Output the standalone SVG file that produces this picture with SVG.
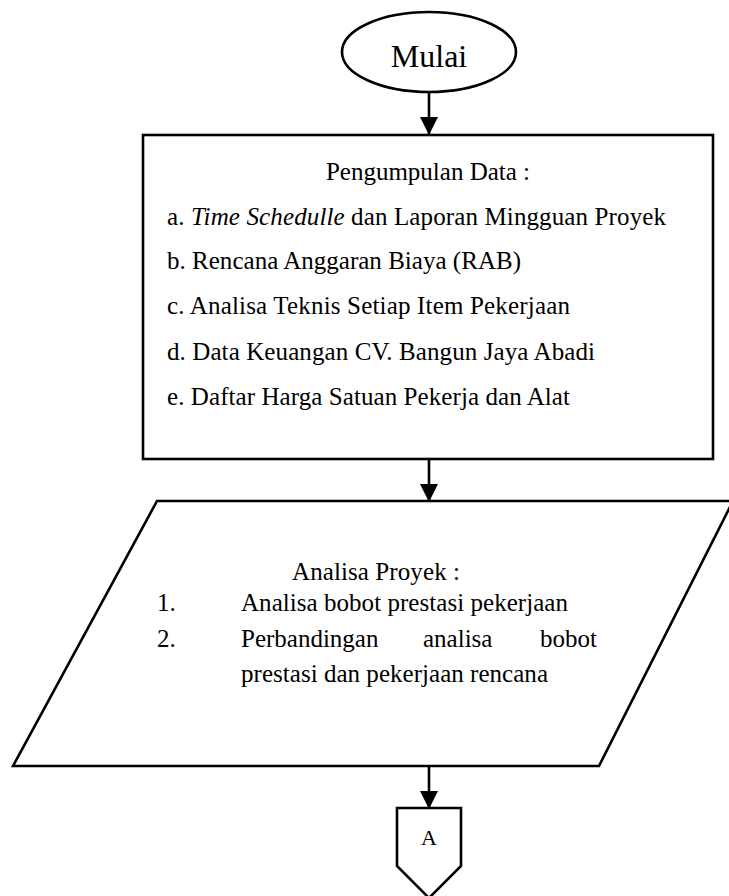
<svg xmlns="http://www.w3.org/2000/svg" width="729" height="896" viewBox="0 0 729 896">
<defs>
<style>
.s{fill:#fff;stroke:#000;stroke-width:2.6}
.t{font-family:"Liberation Serif","Times New Roman",serif;font-size:25px;fill:#000}
.c{stroke:#000;stroke-width:2.6;fill:none}
</style>
<marker id="ah" markerUnits="userSpaceOnUse" markerWidth="18" markerHeight="18" viewBox="0 0 18 18" refX="17" refY="9" orient="auto">
<path d="M0,0 L18,9 L0,18 Z" fill="#000"/>
</marker>
</defs>
<rect width="729" height="896" fill="#fff"/>
<g id="connectors">
<line class="c" x1="429" y1="92" x2="429" y2="134" marker-end="url(#ah)"/>
<line class="c" x1="429" y1="459" x2="429" y2="501" marker-end="url(#ah)"/>
<line class="c" x1="429" y1="766" x2="429" y2="808" marker-end="url(#ah)"/>
</g>
<g id="mulai">
<ellipse class="s" cx="429" cy="52" rx="87" ry="40"/>
<text class="t" x="429" y="67" text-anchor="middle" style="font-size:32px">Mulai</text>
</g>
<g id="pengumpulan">
<rect class="s" x="143" y="135" width="570" height="324"/>
<text class="t" x="428" y="180" text-anchor="middle">Pengumpulan Data :</text>
<text class="t" x="167" y="225" textLength="499">a. <tspan font-style="italic">Time Schedulle</tspan> dan Laporan Mingguan Proyek</text>
<text class="t" x="167" y="269" textLength="354">b. Rencana Anggaran Biaya (RAB)</text>
<text class="t" x="167" y="314" textLength="403">c. Analisa Teknis Setiap Item Pekerjaan</text>
<text class="t" x="167" y="360" textLength="428">d. Data Keuangan CV. Bangun Jaya Abadi</text>
<text class="t" x="167" y="405" textLength="403">e. Daftar Harga Satuan Pekerja dan Alat</text>
</g>
<g id="analisa">
<polygon class="s" points="157,501 733,501 599,766 13,766"/>
<text class="t" x="292" y="580" textLength="168">Analisa Proyek :</text>
<text class="t" x="157" y="611">1.</text>
<text class="t" x="241" y="611" textLength="327">Analisa bobot prestasi pekerjaan</text>
<text class="t" x="157" y="647">2.</text>
<text class="t" x="241" y="647">Perbandingan</text>
<text class="t" x="423" y="647">analisa</text>
<text class="t" x="597" y="647" text-anchor="end">bobot</text>
<text class="t" x="241" y="682" textLength="307">prestasi dan pekerjaan rencana</text>
</g>
<g id="a">
<polygon class="s" points="397,808 461,808 461,866 429,898 397,866"/>
<text class="t" x="429" y="845" text-anchor="middle" style="font-size:22px">A</text>
</g>
</svg>
